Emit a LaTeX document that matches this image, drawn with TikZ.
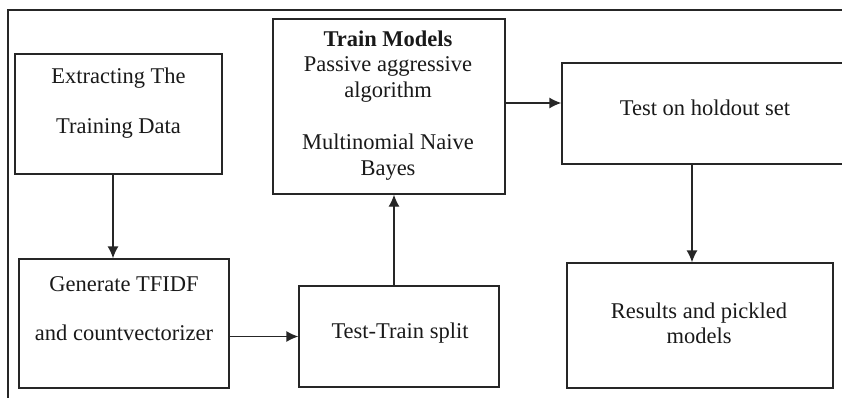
\documentclass[tikz,border=0pt]{standalone}
\usepackage{fontspec}
\setmainfont{Liberation Serif}
\usetikzlibrary{arrows.meta}
\begin{document}
\begin{tikzpicture}[x=1pt,y=-1pt,
  box/.style={draw=black!85, line width=1.3pt, inner sep=0pt},
  txt/.style={align=center, font=\fontsize{22.5}{25.5}\selectfont, text=black!90, inner sep=0pt},
  arr/.style={draw=black!85, line width=1.3pt, -{Latex[length=12pt,width=11pt]}}]
\useasboundingbox (0,0) rectangle (842,398);
\clip (0,0) rectangle (842,398);
% frame
\coordinate (fl) at (8,398);
\coordinate (fc) at (8,10);
\coordinate (fr) at (842,10);
\draw[black!85, line width=1.4pt] (fl) -- (fc) -- (fr);
% boxes
\node[box, minimum width=207pt, minimum height=120pt] (b1) at (118.5,114) {};
\node[box, minimum width=210pt, minimum height=129pt] (b2) at (124,323.5) {};
\node[box, minimum width=200pt, minimum height=101pt] (b3) at (399,336.5) {};
\node[box, minimum width=232pt, minimum height=175pt] (b4) at (389,106.5) {};
\node[box, minimum width=288pt, minimum height=101pt] (b5) at (706,113.5) {};
\node[box, minimum width=266pt, minimum height=125pt] (b6) at (700,325.5) {};
% texts
\node[txt] (t1) at (118.5,103) {Extracting The\\[25pt]Training Data};
\node[txt] (t2) at (124,308.5) {Generate TFIDF\\[24pt]and countvectorizer};
\node[txt] (t3) at (400,333) {Test-Train split};
\node[txt] (t4) at (388,105.5) {\textbf{Train Models}\\Passive aggressive\\algorithm\\[27pt]Multinomial Naive\\Bayes};
\node[txt] (t5) at (705,108) {Test on holdout set};
\node[txt] (t6) at (699,323.5) {Results and pickled\\models};
% connectors
\draw[arr] ([xshift=-5.5pt]b1.south) -- ([xshift=-5.5pt]b1.south |- b2.north);
\draw[arr] (b2.east |- b3.center) -- (b3.west);
\draw[arr] ([xshift=-5pt]b3.north) -- ([xshift=-5pt]b3.north |- b4.south);
\draw[arr] ([yshift=3.5pt]b4.east) -- ([yshift=3.5pt]b4.east -| b5.west);
\draw[arr] ([xshift=-8pt]b6.north |- b5.south) -- ([xshift=-8pt]b6.north);
\end{tikzpicture}
\end{document}
